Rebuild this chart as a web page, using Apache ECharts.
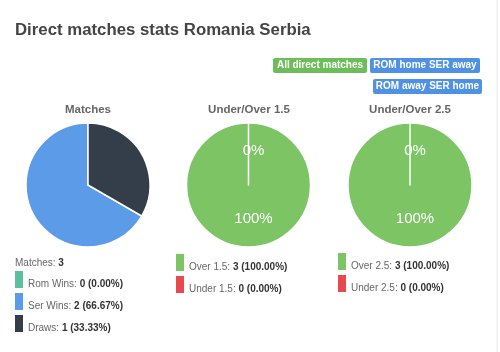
<!DOCTYPE html>
<html>
<head>
<meta charset="utf-8">
<script src="https://cdn.jsdelivr.net/npm/echarts@6/dist/echarts.min.js"></script>
<style>
  html, body { margin: 0; padding: 0; background: #fff; }
  #chart { width: 500px; height: 352px; }
</style>
</head>
<body>
<div id="chart"></div>
<script>
// data
const matchNames = ['Rom Wins', 'Ser Wins', 'Draws'];
const matchValues = [0, 2, 1];
const ou15Names = ['Over 1.5', 'Under 1.5'];
const ou15Values = [3, 0];
const ou25Names = ['Over 2.5', 'Under 2.5'];
const ou25Values = [3, 0];
const buttonLabels = ['All direct matches', 'ROM home SER away', 'ROM away SER home'];

const matchColors = ['#5cbfa1', '#5b9be8', '#343e4a'];
const ouColors = ['#7cc464', '#e64a4f'];
const font = 'Arial, "Liberation Sans", sans-serif';

const toItems = (names, values) => names.map((n, i) => ({ name: n, value: values[i] }));

// legend text like "Ser Wins: 2 (66.67%)"
const legendFormatter = (names, values) => {
  const total = values.reduce((a, b) => a + b, 0);
  return (name) => {
    const i = names.indexOf(name);
    const pct = total ? (values[i] / total * 100).toFixed(2) : '0.00';
    return '{n|' + name + ': }{b|' + values[i] + ' (' + pct + '%)}';
  };
};

const richText = {
  n: { fontFamily: font, fontSize: 10, color: '#666', fontWeight: 'normal', lineHeight: 8 },
  b: { fontFamily: font, fontSize: 10, color: '#333', fontWeight: 'bold', lineHeight: 8 }
};

const legendBase = {
  orient: 'vertical',
  icon: 'rect',
  padding: 0,
  itemWidth: 8,
  itemHeight: 17,
  itemGap: 4,
  height: 120,
  selectedMode: false,
  itemStyle: { borderWidth: 0 },
  textStyle: {
    padding: [9, 0, 0, 0],
    rich: richText
  }
};

const pieBase = {
  type: 'pie',
  radius: 62,
  animation: false,
  silent: true,
  itemStyle: { borderColor: '#fff', borderWidth: 1.5 },
  labelLine: { show: false }
};

const ouLabel = {
  show: true,
  position: 'inner',
  formatter: '{d}%',
  color: '#fff',
  fontFamily: font,
  fontSize: 15,
  offset: [5, 0]
};

// filter buttons
const buttons = [
  { x: 273, y: 58, w: 94, color: '#6dbd5a' },
  { x: 370, y: 58, w: 110, color: '#4f92e3' },
  { x: 373, y: 79, w: 109, color: '#4f92e3' }
];

const graphic = [
  { type: 'line', shape: { x1: 497, y1: 0, x2: 497, y2: 352 }, style: { stroke: '#e8e8e8', lineWidth: 1 } }
];
buttons.forEach((b, i) => {
  graphic.push({
    type: 'rect',
    shape: { x: b.x, y: b.y, width: b.w, height: 15, r: 2 },
    style: { fill: b.color }
  });
  graphic.push({
    type: 'text',
    x: b.x + b.w / 2,
    y: b.y + 7.5,
    style: {
      text: buttonLabels[i],
      fill: '#fff',
      font: 'bold 10px ' + font,
      align: 'center',
      verticalAlign: 'middle'
    }
  });
});

const matchTotal = matchValues.reduce((a, b) => a + b, 0);
const subTitle = (text, x) => ({
  text: text,
  left: x,
  top: 104,
  padding: 0,
  textAlign: 'center',
  textStyle: { fontFamily: font, fontSize: 11.5, fontWeight: 'bold', color: '#666' }
});

const chart = echarts.init(document.getElementById('chart'));
chart.setOption({
  animation: false,
  title: [
    {
      text: 'Direct matches stats Romania Serbia',
      left: 15,
      top: 22,
      padding: 0,
      textStyle: { fontFamily: font, fontSize: 16.8, fontWeight: 'bold', color: '#444' }
    },
    subTitle('Matches', 88),
    subTitle('Under/Over 1.5', 249),
    subTitle('Under/Over 2.5', 410),
    {
      text: '{n|Matches: }{b|' + matchTotal + '}',
      left: 15,
      top: 258,
      padding: 0,
      textStyle: {
        rich: {
          n: { fontFamily: font, fontSize: 10, color: '#666', fontWeight: 'normal' },
          b: { fontFamily: font, fontSize: 10, color: '#333', fontWeight: 'bold' }
        }
      }
    }
  ],
  legend: [
    Object.assign({}, legendBase, { left: 15, top: 271, data: matchNames, formatter: legendFormatter(matchNames, matchValues) }),
    Object.assign({}, legendBase, { left: 176, top: 254, data: ou15Names, formatter: legendFormatter(ou15Names, ou15Values) }),
    Object.assign({}, legendBase, { left: 338, top: 253, data: ou25Names, formatter: legendFormatter(ou25Names, ou25Values) })
  ],
  graphic: graphic,
  series: [
    Object.assign({}, pieBase, {
      name: 'Matches',
      center: [88, 185],
      clockwise: false,
      color: matchColors,
      label: { show: false },
      data: toItems(matchNames, matchValues)
    }),
    Object.assign({}, pieBase, {
      name: 'Under/Over 1.5',
      center: [248.5, 185],
      color: ouColors,
      label: ouLabel,
      data: toItems(ou15Names, ou15Values)
    }),
    Object.assign({}, pieBase, {
      name: 'Under/Over 2.5',
      center: [410, 185],
      color: ouColors,
      label: ouLabel,
      data: toItems(ou25Names, ou25Values)
    })
  ]
});
</script>
</body>
</html>
